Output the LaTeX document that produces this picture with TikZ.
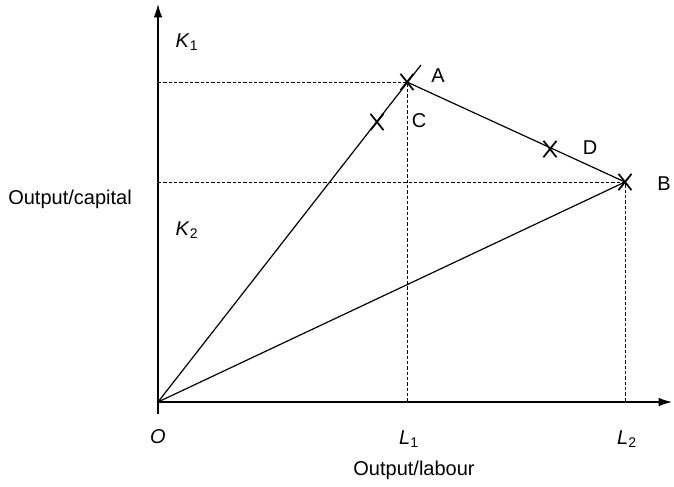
\documentclass[tikz,border=0pt]{standalone}
\usepackage{fontspec}
\setmainfont{Liberation Sans}
\usetikzlibrary{arrows.meta, positioning, shapes.misc}

\begin{document}
\begin{tikzpicture}[x=0.75pt, y=-0.75pt, >={Latex[length=10pt,width=6.5pt]}, line width=0.9pt,
  font=\fontsize{15}{18}\selectfont,
  guide/.style={dash pattern=on 2.4pt off 1.6pt, line width=0.7pt},
  xmark/.style={draw, cross out, minimum width=8.5pt, minimum height=11pt, inner sep=0pt, line width=1.3pt},
  lbl/.style={inner sep=0pt}]

\useasboundingbox (0,0) rectangle (674,486);

% Points
\coordinate (O) at (158,402);
\coordinate (A) at (407,82);
\coordinate (Aext) at (421,65);
\coordinate (B) at (625,182);
\coordinate (L1) at (407,402);
\coordinate (L2) at (625,402);
\coordinate (K1) at (158,82);
\coordinate (K2) at (158,182);
\coordinate (ytop) at (158,4);
\coordinate (ybot) at (158,414);
\coordinate (xend) at (672,402);

% Axes
\draw[->, line width=1.1pt] (ybot) -- (ytop);
\draw[->, line width=1.1pt] (O) -- (xend);

% Guide lines
\draw[guide] (K1) -- (A) -- (L1);
\draw[guide] (K2) -- (B) -- (L2);

% Rays and frontier
\draw (O) -- (Aext);
\draw (O) -- (B);
\draw (A) -- (B);

% Crosses
\node[xmark] (mA) at (A) {};
\node[xmark] (mB) at (B) {};
\node[xmark] (mC) at (377,122) {};
\node[xmark] (mD) at (550,149) {};

% Labels
\node[lbl] (a) at (438,76) {A};
\node[lbl] (b) at (664,184) {B};
\node[lbl] (c) at (419,121) {C};
\node[lbl] (d) at (590,148) {D};
\node[lbl] (k1) at (187,42) {\textit{K}\textsubscript{1}};
\node[lbl] (k2) at (187,230) {\textit{K}\textsubscript{2}};
\node[lbl] (o) at (158,437) {\textit{O}};
\node[lbl] (l1) at (409,439) {\textit{L}\textsubscript{1}};
\node[lbl] (l2) at (627,439) {\textit{L}\textsubscript{2}};
\node[lbl] (xlab) at (414,470) {Output/labour};
\node[lbl] (ylab) at (70,199) {Output/capital};

\end{tikzpicture}
\end{document}
